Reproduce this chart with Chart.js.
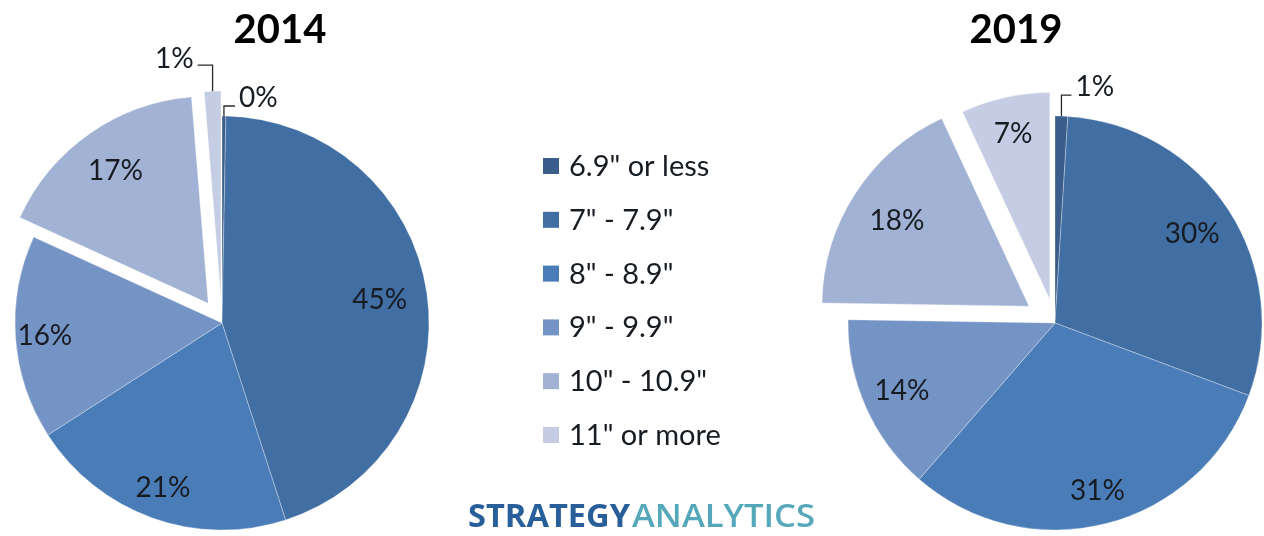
<!DOCTYPE html>
<html>
<head>
<meta charset="utf-8">
<script src="https://cdn.jsdelivr.net/npm/chart.js@4.4.1/dist/chart.umd.min.js"></script>
<style>
  html, body { margin:0; padding:0; background:#fff; width:1264px; height:536px; overflow:hidden; position:relative; }
  canvas { position:absolute; top:0; }
  #c1 { left:0; }
  #c2 { left:800px; }
</style>
</head>
<body>
<canvas id="c1" width="840" height="536"></canvas>
<canvas id="c2" width="464" height="536"></canvas>
<script>
// ---------- data ----------
const categories = ['6.9" or less', '7" - 7.9"', '8" - 8.9"', '9" - 9.9"', '10" - 10.9"', '11" or more'];
const years = ['2014', '2019'];
const share2014 = [0.3, 45, 21, 16, 17, 1.3];
const share2019 = [1, 30, 31, 14, 18, 7];

// ---------- styles ----------
const sliceColors = ['#3A5D8C', '#416EA3', '#4A7CB7', '#7594C6', '#A1B2D4', '#C4CDE3'];
const explode2014 = [0, 0, 0, 0, 24, 25];
const explode2019 = [0, 0, 0, 0, 31, 24];
const labelFrac2014 = [0.8, 0.77, 0.846, 0.858, 0.78, 0.8];
const labelFrac2019 = [0.8, 0.79, 0.835, 0.81, 0.76, 0.82];
const FONT = 'Lato, "Open Sans", sans-serif';
const TEXT = '#171b22';

// Explode slices by a pure translation (no radius growth)
const origArcDraw = Chart.ArcElement.prototype.draw;
Chart.ArcElement.prototype.draw = function (ctx) {
  const off = (this.options && this.options.offset) || 0;
  if (!off) return origArcDraw.call(this, ctx);
  const half = (this.startAngle + this.endAngle) / 2;
  const saved = this.options;
  this.options = Object.assign({}, saved, { offset: 0 });
  ctx.save();
  ctx.translate(Math.cos(half) * off, Math.sin(half) * off);
  origArcDraw.call(this, ctx);
  ctx.restore();
  this.options = saved;
};

const sliceLabels = {
  id: 'sliceLabels',
  afterDatasetsDraw(chart, args, opts) {
    const ctx = chart.ctx;
    const meta = chart.getDatasetMeta(0);
    const values = chart.data.datasets[0].data;
    ctx.save();
    ctx.font = '28px ' + FONT;
    ctx.fillStyle = TEXT;
    meta.data.forEach((arc, i) => {
      const txt = Math.round(values[i]) + '%';
      const mid = (arc.startAngle + arc.endAngle) / 2;
      const off = arc.options.offset || 0;
      const r = arc.outerRadius;
      const co = opts.callouts[i];
      if (co) {
        const ax = arc.x + Math.cos(mid) * (r + off);
        const ay = arc.y + Math.sin(mid) * (r + off);
        const ly = ay - co.rise;
        const lx = ax + co.dir * co.run;
        ctx.strokeStyle = '#2a2a2a';
        ctx.lineWidth = 1.3;
        ctx.beginPath();
        ctx.moveTo(ax, ay); ctx.lineTo(ax, ly); ctx.lineTo(lx, ly);
        ctx.stroke();
        ctx.textAlign = co.dir > 0 ? 'left' : 'right';
        ctx.textBaseline = 'alphabetic';
        ctx.fillText(txt, lx + co.dir * 4, ly + co.dy);
      } else {
        const d = off + r * opts.frac[i];
        ctx.textAlign = 'center';
        ctx.textBaseline = 'middle';
        ctx.fillText(txt, arc.x + Math.cos(mid) * d, arc.y + Math.sin(mid) * d);
      }
    });
    // title
    ctx.font = 'bold 40px ' + FONT;
    ctx.fillStyle = '#000';
    ctx.textAlign = 'center';
    ctx.textBaseline = 'alphabetic';
    ctx.fillText(opts.title, opts.titleX, 43);
    ctx.restore();
  }
};

const legendAndLogo = {
  id: 'legendAndLogo',
  afterDraw(chart, args, opts) {
    if (!opts.show) return;
    const ctx = chart.ctx;
    ctx.save();
    const labels = chart.data.labels;
    const cols = chart.data.datasets[0].backgroundColor;
    ctx.font = '29px ' + FONT;
    ctx.textBaseline = 'alphabetic';
    ctx.textAlign = 'left';
    labels.forEach((lab, i) => {
      const cy = 166 + i * 53.8;
      ctx.fillStyle = cols[i];
      ctx.fillRect(543, cy - 8, 16, 16);
      ctx.fillStyle = TEXT;
      ctx.fillText(lab, 569, cy + 10);
    });
    // logo
    const drawFit = (txt, font, color, x, w) => {
      ctx.font = font;
      const m = ctx.measureText(txt).width;
      ctx.save();
      ctx.translate(x, 527);
      ctx.scale(w / m, 1);
      ctx.fillStyle = color;
      ctx.fillText(txt, 0, 0);
      ctx.restore();
    };
    drawFit('STRATEGY', 'bold 33px "Open Sans", sans-serif', '#285F9B', 468, 162);
    drawFit('ANALYTICS', '600 33px "Open Sans", sans-serif', '#55A8BA', 632, 183);
    ctx.restore();
  }
};

function makePie(id, values, explode, padding, labelOpts, showLegend) {
  return new Chart(document.getElementById(id), {
    type: 'pie',
    data: {
      labels: categories,
      datasets: [{
        data: values,
        backgroundColor: sliceColors,
        borderColor: 'rgba(255,255,255,0.3)',
        borderWidth: 1,
        offset: explode,
        hoverOffset: 0
      }]
    },
    options: {
      responsive: false,
      animation: false,
      events: [],
      radius: 207,
      layout: { padding },
      plugins: {
        legend: { display: false },
        tooltip: { enabled: false },
        sliceLabels: labelOpts,
        legendAndLogo: { show: showLegend }
      }
    },
    plugins: [sliceLabels, legendAndLogo]
  });
}

makePie('c1', share2014, explode2014,
  { left: 0, right: 396, top: 110, bottom: 0 },
  { frac: labelFrac2014, title: years[0], titleX: 280,
    callouts: { 0: { dir: 1, rise: 10, run: 11, dy: 1 }, 5: { dir: -1, rise: 26, run: 15, dy: 3 } } },
  true);

makePie('c2', share2019, explode2019,
  { left: 46, right: 0, top: 110, bottom: 0 },
  { frac: labelFrac2019, title: years[1], titleX: 216,
    callouts: { 0: { dir: 1, rise: 21, run: 10, dy: 1 } } },
  false);
</script>
</body>
</html>
